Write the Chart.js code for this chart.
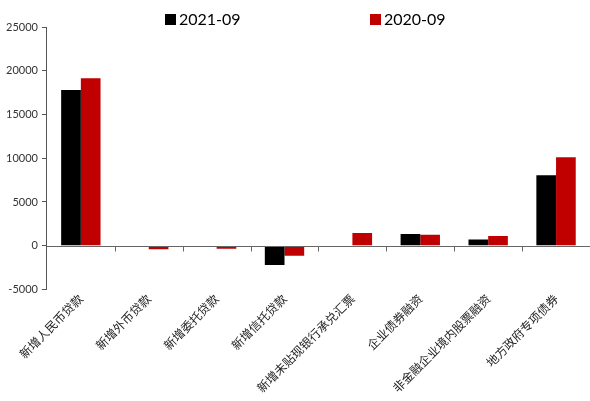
<!DOCTYPE html>
<html>
<head>
<meta charset="utf-8">
<script src="https://cdn.jsdelivr.net/npm/chart.js@4/dist/chart.umd.min.js"></script>
<style>
  html, body { margin: 0; padding: 0; background: #fff; }
  #wrap { width: 590px; height: 401px; }
</style>
</head>
<body>
<div id="wrap"><canvas id="chart"></canvas></div>
<script>
// categories and values
const categories = ['新增人民币贷款', '新增外币贷款', '新增委托贷款', '新增信托贷款',
    '新增未贴现银行承兑汇票', '企业债券融资', '非金融企业境内股票融资', '地方政府专项债券'];
const seriesNames = ['2021-09', '2020-09'];
const values2021 = [17800, 0, 0, -2200, 0, 1350, 700, 8050];
const values2020 = [19150, -400, -350, -1150, 1450, 1250, 1100, 10100];
const seriesColors = ['#000000', '#C00000'];

// zero line plus small tick marks between categories
const zeroAxis = {
    id: 'zeroAxis',
    afterDatasetsDraw(chart) {
        const ctx = chart.ctx;
        const x = chart.scales.x;
        const y0 = Math.round(chart.scales.y.getPixelForValue(0)) + 0.5;
        ctx.save();
        ctx.strokeStyle = '#666';
        ctx.lineWidth = 1;
        ctx.beginPath();
        ctx.moveTo(chart.chartArea.left, y0);
        ctx.lineTo(chart.chartArea.right, y0);
        for (let i = 1; i < categories.length; i++) {
            const px = Math.round((x.getPixelForValue(i - 1) + x.getPixelForValue(i)) / 2) + 0.5;
            ctx.moveTo(px, y0);
            ctx.lineTo(px, y0 + 5);
        }
        ctx.stroke();
        ctx.restore();
    }
};

// legend drawn by hand, the two items sit far apart
const wideLegend = {
    id: 'wideLegend',
    afterDraw(chart) {
        const ctx = chart.ctx;
        const starts = [165, 370];
        ctx.save();
        ctx.font = '16px Lato, "Open Sans", sans-serif';
        ctx.textBaseline = 'middle';
        chart.data.datasets.forEach((ds, i) => {
            ctx.fillStyle = ds.backgroundColor;
            ctx.fillRect(starts[i], 14, 11, 11);
            ctx.fillStyle = '#000';
            ctx.fillText(ds.label, starts[i] + 14, 20);
        });
        ctx.restore();
    }
};

new Chart(document.getElementById('chart'), {
    type: 'bar',
    data: {
        labels: categories,
        datasets: [
            { label: seriesNames[0], data: values2021, backgroundColor: seriesColors[0] },
            { label: seriesNames[1], data: values2020, backgroundColor: seriesColors[1] }
        ]
    },
    options: {
        responsive: true,
        maintainAspectRatio: false,
        animation: false,
        layout: { padding: { top: 27, left: 2, right: 0, bottom: 4 } },
        datasets: { bar: { categoryPercentage: 0.58, barPercentage: 1.0 } },
        plugins: {
            legend: { display: false },
            tooltip: { enabled: false }
        },
        scales: {
            x: {
                grid: { display: false, drawTicks: false },
                border: { display: false },
                ticks: {
                    color: '#222',
                    minRotation: 45,
                    maxRotation: 45,
                    padding: 2,
                    font: { family: '"Noto Sans CJK SC"', size: 12 }
                }
            },
            y: {
                min: -5000,
                max: 25000,
                ticks: {
                    stepSize: 5000,
                    color: '#333',
                    padding: 4,
                    callback: v => String(v),
                    font: { family: 'Lato, "Open Sans", sans-serif', size: 11 }
                },
                grid: {
                    color: 'transparent',
                    tickColor: '#555',
                    tickLength: 5
                },
                border: { display: true, color: '#555' }
            }
        }
    },
    plugins: [zeroAxis, wideLegend]
});
</script>
</body>
</html>
